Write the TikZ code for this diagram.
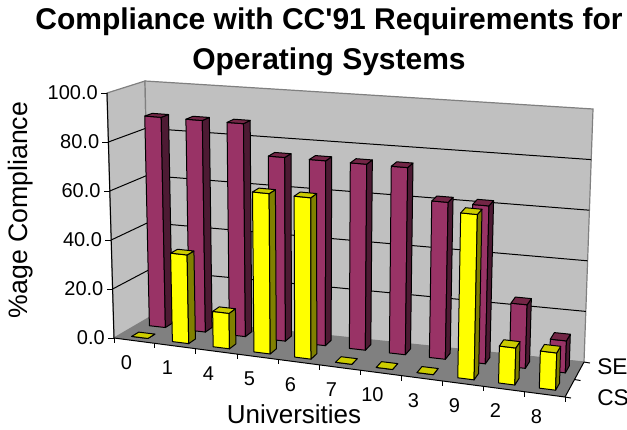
\documentclass[tikz,border=0pt]{standalone}
\usepackage{fontspec}
\setmainfont{Liberation Sans}

\definecolor{wallgrey}{HTML}{C0C0C0}
\definecolor{floorgrey}{HTML}{808080}
\definecolor{sefront}{HTML}{993366}
\definecolor{seside}{HTML}{4D1A33}
\definecolor{setop}{HTML}{732646}
\definecolor{csfront}{HTML}{FFFF00}
\definecolor{csside}{HTML}{808000}
\definecolor{cstop}{HTML}{CCCC00}

% point of the plot box: #2 along universities, #3 depth, #4 height (0..1)
\newcommand{\proj}[4]{%
  \pgfmathsetmacro\prx{(1-#4)*((1-#3)*(114+451*#2)+#3*(150+434*#2))+#4*((1-#3)*(107+466*#2)+#3*(145+448*#2))}%
  \pgfmathsetmacro\pry{(1-#4)*((1-#3)*(338+59*#2)+#3*(317+45*#2))+#4*((1-#3)*(93+42*#2)+#3*(81+28*#2))}%
  \coordinate (#1) at (\prx,\pry);}

% one column: #1 slot, #2 front depth, #3 value, #4-#6 colours
\newcommand{\drawcol}[6]{%
  \pgfmathsetmacro\colua{(#1+0.3)/11}%
  \pgfmathsetmacro\colub{(#1+0.7)/11}%
  \pgfmathsetmacro\colda{#2}%
  \pgfmathsetmacro\coldb{#2+0.2}%
  \pgfmathsetmacro\coltv{#3/100}%
  \proj{c1}{\colua}{\colda}{0}\proj{c2}{\colub}{\colda}{0}\proj{c3}{\colub}{\coldb}{0}%
  \proj{c4}{\colua}{\colda}{\coltv}\proj{c5}{\colub}{\colda}{\coltv}%
  \proj{c6}{\colub}{\coldb}{\coltv}\proj{c7}{\colua}{\coldb}{\coltv}%
  \draw[face,fill=#4] (c1) -- (c2) -- (c5) -- (c4) -- cycle;
  \draw[face,fill=#5] (c2) -- (c3) -- (c6) -- (c5) -- cycle;
  \draw[face,fill=#6] (c4) -- (c5) -- (c6) -- (c7) -- cycle;}

\begin{document}
\begin{tikzpicture}[x=0.75pt,y=-0.75pt,
  wall/.style={fill=wallgrey,draw=floorgrey,line width=0.9pt},
  gridline/.style={black,line width=0.75pt},
  face/.style={draw=black,line width=0.75pt,line join=round},
  ticklab/.style={font=\fontsize{15}{18}\selectfont,inner sep=0pt}]

\useasboundingbox (0,0) rectangle (627,429);

% walls and floor
\proj{fl0}{0}{0}{0}\proj{fr0}{1}{0}{0}\proj{bl0}{0}{1}{0}\proj{br0}{1}{1}{0}
\proj{fl1}{0}{0}{1}\proj{bl1}{0}{1}{1}\proj{br1}{1}{1}{1}
\draw[wall] (fl0) -- (bl0) -- (bl1) -- (fl1) -- cycle;
\draw[wall] (bl0) -- (br0) -- (br1) -- (bl1) -- cycle;
\fill[floorgrey] (fl0) -- (fr0) -- (br0) -- (bl0) -- cycle;

\foreach \t in {0.2,0.4,0.6,0.8}{
  \proj{ga}{0}{0}{\t}\proj{gb}{0}{1}{\t}\proj{gc}{1}{1}{\t}
  \draw[gridline] (ga) -- (gb) -- (gc);
}

% axes
\draw[gridline] (fl1) -- (fl0) -- (fr0) -- (br0);
\foreach \t/\lab [count=\n] in {0/0.0,0.2/20.0,0.4/40.0,0.6/60.0,0.8/80.0,1/100.0}{
  \proj{yt\n}{0}{0}{\t}
  \draw[gridline] (yt\n) -- ++(-6,0);
  \node[ticklab,anchor=east] (ylab\n) at ([shift={(-9,0)}]yt\n) {\lab};
}
\foreach \k in {0,...,11}{
  \pgfmathsetmacro\u{\k/11}
  \proj{xt\k}{\u}{0}{0}
  \draw[gridline] (xt\k) -- ++(0,5);
}
\foreach \d in {0,0.5,1}{
  \proj{st}{1}{\d}{0}
  \draw[gridline] (st) -- ++(6,1);
}

% SE row, then CS row
\foreach \k/\v in {0/87.5,1/87.5,2/87.5,3/75,4/75,5/75,6/75,7/62.5,8/62.5,9/25,10/12.5}
  \drawcol{\k}{0.65}{\v}{sefront}{seside}{setop};
\foreach \k/\v in {0/0,1/36,2/14.3,3/64.3,4/64.3,5/0,6/0,7/0,8/64.3,9/14.3,10/14.3}
  \drawcol{\k}{0.15}{\v}{csfront}{csside}{cstop};

% labels
\foreach \k/\lab in {0/0,1/1,2/4,3/5,4/6,5/7,6/10,7/3,8/9,9/2,10/8}{
  \pgfmathsetmacro\u{(\k+0.5)/11}
  \proj{cm\k}{\u}{0}{0}
  \node[ticklab] (cat\k) at ([shift={(-8,22)}]cm\k) {\lab};
}
\node[font=\fontsize{17}{20}\selectfont,anchor=west,inner sep=0pt] (lse) at (597,367) {SE};
\node[font=\fontsize{17}{20}\selectfont,anchor=west,inner sep=0pt] (lcs) at (597,398) {CS};

\node[font=\bfseries\fontsize{22.5}{30}\selectfont,align=center] (title) at (329,42)
  {Compliance with CC\textquotesingle91 Requirements for\\Operating Systems};
\node[rotate=90,font=\fontsize{20}{24}\selectfont] (ytitle) at (21,210) {\%age Compliance};
\node[font=\fontsize{19.5}{23}\selectfont,inner sep=0pt] (xtitle) at (294,414) {Universities};
\end{tikzpicture}
\end{document}
